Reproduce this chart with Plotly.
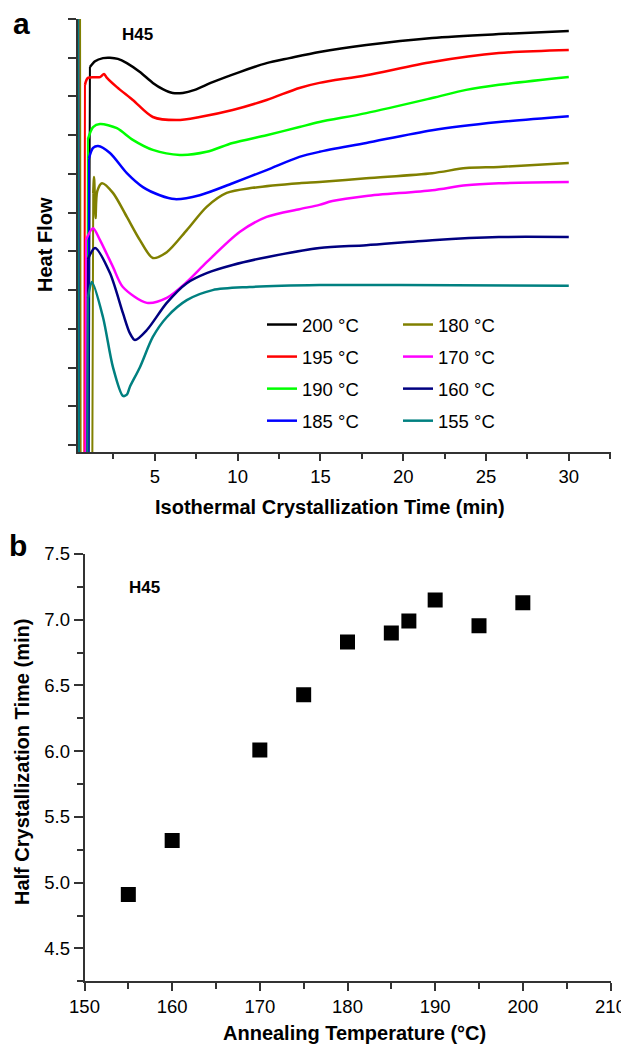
import plotly.graph_objects as go

# Target page size; the HTML body adds an 8 px margin, so the figure is made
# 8 px smaller and all page-pixel positions below are converted with that offset.
W, H = 629, 1045
OFF = 8
FW, FH = W - OFF, H - OFF
FONT = "Liberation Sans, Arial, sans-serif"
AX = "#333333"

# ---------------- Panel a data ----------------
labels_a = ["200 °C", "195 °C", "190 °C", "185 °C", "180 °C", "170 °C", "160 °C", "155 °C"]
colors_a = ["#000000", "#FF0000", "#00FF00", "#0000FF", "#808000", "#FF00FF", "#000080", "#008080"]

t_200 = [0.36, 0.42, 1.00, 1.08, 1.39, 1.87, 2.29, 2.77, 3.31, 4.10, 4.88, 5.48, 6.08, 6.69, 7.41, 8.49, 10.12, 11.75, 13.13, 14.94, 17.77, 21.75, 25.78, 30.0]
hf_200 = [12, -1, -1, 9.76, 9.91, 9.99, 10.00, 9.97, 9.86, 9.63, 9.35, 9.19, 9.09, 9.09, 9.17, 9.37, 9.63, 9.86, 9.99, 10.15, 10.33, 10.51, 10.61, 10.69]

t_195 = [0.36, 0.42, 0.74, 0.78, 0.96, 1.69, 1.93, 2.11, 2.71, 3.67, 4.88, 6.33, 7.71, 9.70, 11.75, 13.73, 14.94, 17.77, 21.75, 25.78, 30.0]
hf_195 = [12, -1, -1, 9.30, 9.48, 9.50, 9.58, 9.48, 9.24, 8.91, 8.47, 8.39, 8.47, 8.65, 8.91, 9.22, 9.35, 9.55, 9.89, 10.12, 10.20]

t_190 = [0.36, 0.42, 0.92, 0.96, 1.27, 1.69, 2.71, 3.67, 4.88, 6.51, 8.13, 9.70, 11.75, 13.73, 14.94, 17.77, 21.75, 23.80, 25.78, 30.0]
hf_190 = [12, -1, -1, 7.90, 8.21, 8.29, 8.18, 7.88, 7.62, 7.49, 7.57, 7.80, 8.00, 8.21, 8.34, 8.57, 8.96, 9.17, 9.30, 9.50]

t_185 = [0.36, 0.42, 0.98, 1.02, 1.27, 1.57, 2.29, 3.31, 4.28, 5.30, 6.20, 7.71, 9.70, 11.75, 13.73, 14.94, 17.77, 21.75, 25.78, 30.0]
hf_185 = [12, -1, -1, 7.40, 7.67, 7.72, 7.54, 7.02, 6.66, 6.45, 6.35, 6.45, 6.76, 7.10, 7.44, 7.57, 7.80, 8.13, 8.34, 8.49]

t_180 = [0.48, 0.52, 1.22, 1.28, 1.33, 1.42, 1.52, 1.81, 2.47, 3.31, 4.10, 4.88, 5.72, 6.93, 8.13, 9.34, 10.90, 13.73, 14.94, 17.77, 21.75, 23.80, 25.78, 30.0]
hf_180 = [12, -1, -1, 6.50, 6.92, 5.86, 6.55, 6.76, 6.51, 5.89, 5.29, 4.83, 4.98, 5.55, 6.15, 6.51, 6.64, 6.76, 6.79, 6.89, 7.02, 7.15, 7.18, 7.28]

t_170 = [0.36, 0.42, 0.80, 0.84, 1.27, 1.69, 2.47, 3.07, 4.52, 5.72, 6.93, 8.13, 10.12, 11.75, 13.73, 14.94, 15.72, 17.77, 21.75, 23.80, 25.78, 30.0]
hf_170 = [12, -1, -1, 5.30, 5.60, 5.29, 4.60, 4.08, 3.67, 3.80, 4.21, 4.72, 5.50, 5.89, 6.09, 6.20, 6.30, 6.43, 6.58, 6.71, 6.76, 6.79]

t_160 = [0.36, 0.42, 0.92, 0.96, 1.39, 2.29, 3.07, 3.49, 3.80, 4.52, 5.72, 6.93, 8.13, 9.70, 11.75, 14.94, 17.77, 21.75, 25.78, 30.0]
hf_160 = [12, -1, -1, 4.80, 5.09, 4.44, 3.41, 2.89, 2.71, 2.97, 3.67, 4.18, 4.44, 4.65, 4.85, 5.09, 5.16, 5.29, 5.37, 5.37]

t_155 = [0.36, 0.42, 0.92, 0.96, 1.20, 1.87, 2.47, 3.07, 3.31, 3.49, 4.10, 4.88, 5.72, 6.93, 8.49, 10.72, 14.94, 19.76, 30.0]
hf_155 = [12, -1, -1, 3.80, 4.21, 3.30, 2.01, 1.27, 1.30, 1.50, 2.01, 2.79, 3.30, 3.74, 4.00, 4.08, 4.13, 4.13, 4.11]

series_t = [t_200, t_195, t_190, t_185, t_180, t_170, t_160, t_155]
series_hf = [hf_200, hf_195, hf_190, hf_185, hf_180, hf_170, hf_160, hf_155]

# ---------------- Panel b data ----------------
anneal_T = [155, 160, 170, 175, 180, 185, 187, 190, 195, 200]
half_time = [4.91, 5.32, 6.01, 6.43, 6.83, 6.90, 6.99, 7.15, 6.955, 7.13]

fig = go.Figure()

for i, (t, hf) in enumerate(zip(series_t, series_hf)):
    leg = "legend" if i < 4 else "legend2"
    # initial off-scale transient (straight segments)
    fig.add_trace(go.Scatter(
        x=t[:4], y=hf[:4], mode="lines", name=labels_a[i],
        line=dict(color=colors_a[i], width=2),
        xaxis="x", yaxis="y", legend=leg, legendgroup=labels_a[i],
        showlegend=False, hoverinfo="skip",
    ))
    # crystallization exotherm curve
    fig.add_trace(go.Scatter(
        x=t[3:], y=hf[3:], mode="lines", name=labels_a[i],
        line=dict(color=colors_a[i], width=2.5, shape="spline", smoothing=0.8),
        xaxis="x", yaxis="y", legend=leg, legendgroup=labels_a[i],
    ))

fig.add_trace(go.Scatter(
    x=anneal_T, y=half_time, mode="markers", name="H45",
    marker=dict(symbol="square", size=15, color="black", line=dict(width=0)),
    xaxis="x2", yaxis="y2", showlegend=False,
))

def px_x(p):
    return (p - OFF) / FW

def px_y(p):
    return 1 - (p - OFF) / FH

TICKFONT = dict(family=FONT, size=18.5, color="black")
axis_common = dict(
    showline=True, linecolor=AX, linewidth=1.5, ticks="outside", tickcolor=AX,
    tickwidth=1.5, showgrid=False, zeroline=False, automargin=False,
    tickfont=TICKFONT,
)

TITLEFONT = dict(family=FONT, size=20, color="black")

def note(text, x, y, size, angle=0):
    return dict(text=text, x=px_x(x), y=px_y(y), xref="paper", yref="paper",
                xanchor="center", yanchor="middle", textangle=angle,
                showarrow=False, font=dict(family=FONT, size=size, color="black"))

fig.update_layout(
    width=FW, height=FH, margin=dict(l=0, r=0, t=0, b=0, autoexpand=False),
    paper_bgcolor="white", plot_bgcolor="white",
    font=dict(family=FONT, color="black"),
    xaxis=dict(
        domain=[px_x(78), px_x(611)], range=[0.36, 32.55], anchor="y",
        tick0=0, dtick=5, ticklen=7,
        minor=dict(dtick=2.5, tick0=0, ticks="outside", ticklen=5, tickcolor=AX, tickwidth=1.5),
        **axis_common,
    ),
    yaxis=dict(
        domain=[px_y(452), px_y(19)], range=[-0.18, 11], anchor="x",
        tickvals=list(range(0, 12)), showticklabels=False, ticklen=8,
        **axis_common,
    ),
    xaxis2=dict(
        domain=[px_x(84.5), px_x(610.5)], range=[150, 210], anchor="y2",
        tick0=150, dtick=10, ticklen=8,
        minor=dict(dtick=5, tick0=150, ticks="outside", ticklen=6, tickcolor=AX, tickwidth=1.5),
        **axis_common,
    ),
    yaxis2=dict(
        domain=[px_y(981.3), px_y(554)], range=[4.25, 7.5], anchor="x2",
        tick0=4.5, dtick=0.5, tickformat=".1f", ticklen=9,
        minor=dict(dtick=0.25, tick0=4.5, ticks="outside", ticklen=6, tickcolor=AX, tickwidth=1.5),
        **axis_common,
    ),
    legend=dict(
        x=px_x(262), y=px_y(306), xanchor="left", yanchor="top",
        font=dict(family=FONT, size=18.5, color="black"), bgcolor="rgba(0,0,0,0)",
        traceorder="grouped", tracegroupgap=5, itemwidth=30,
    ),
    legend2=dict(
        x=px_x(398), y=px_y(306), xanchor="left", yanchor="top",
        font=dict(family=FONT, size=18.5, color="black"), bgcolor="rgba(0,0,0,0)",
        traceorder="grouped", tracegroupgap=5, itemwidth=30,
    ),
    annotations=[
        note("<b>a</b>", 21, 23, 30),
        note("<b>b</b>", 18, 545, 30),
        note("<b>H45</b>", 137, 34, 17),
        note("<b>H45</b>", 144.5, 587.5, 17),
        note("<b>Isothermal Crystallization Time (min)</b>", 330, 507, 20),
        note("<b>Heat Flow</b>", 45, 245, 20, -90),
        note("<b>Annealing Temperature (°C)</b>", 354, 1033, 20),
        note("<b>Half Crystallization Time (min)</b>", 22, 762, 20, -90),
    ],
)

fig.write_html("out.html")
